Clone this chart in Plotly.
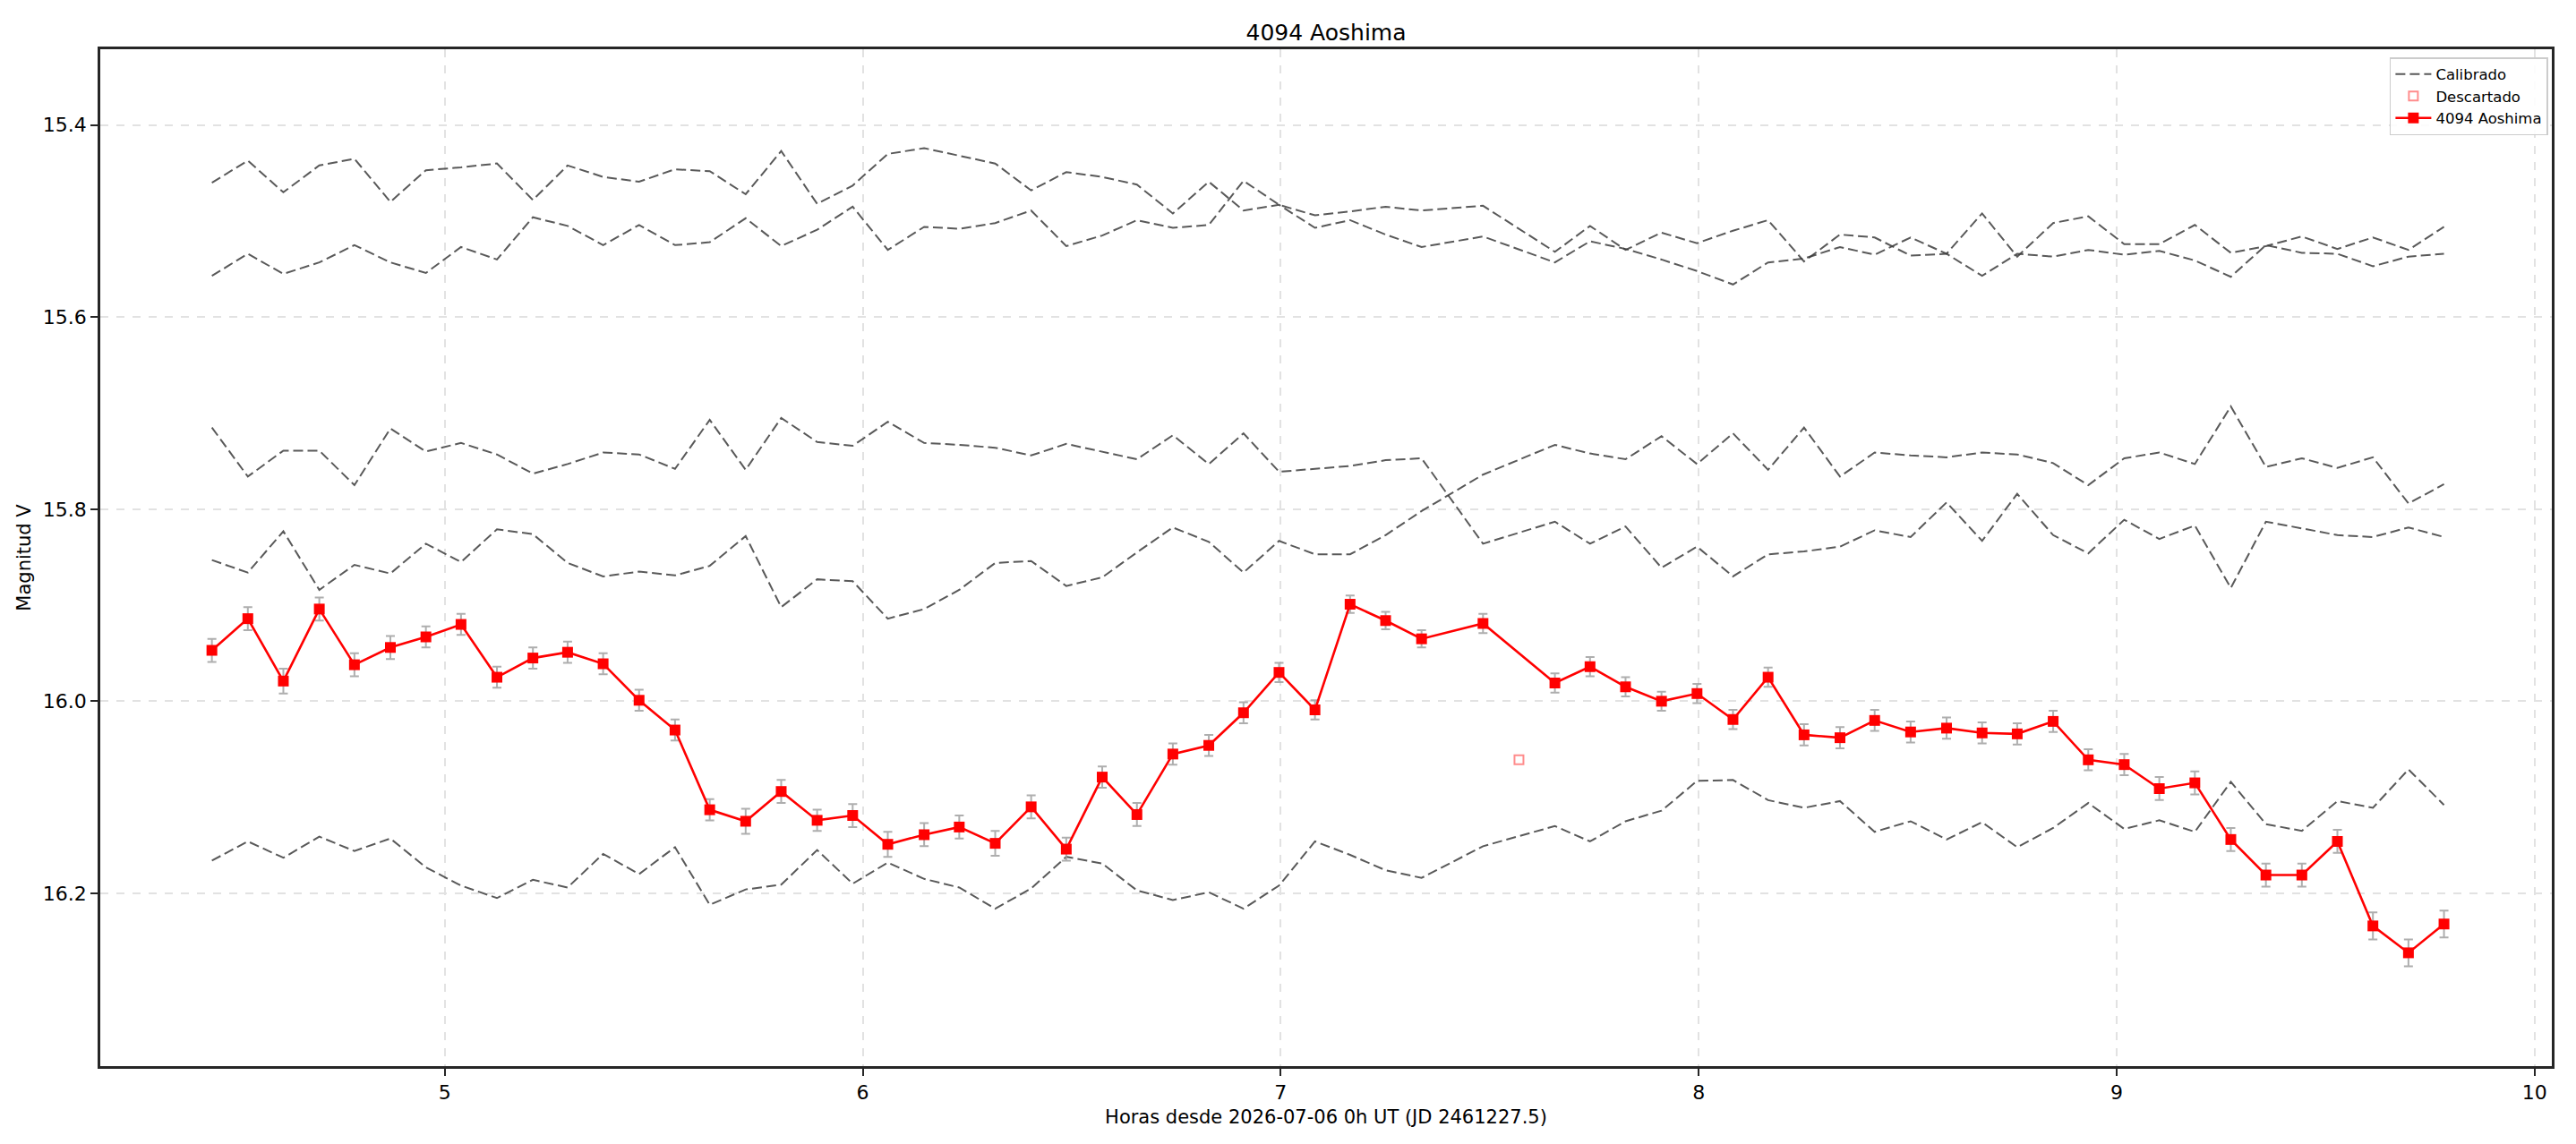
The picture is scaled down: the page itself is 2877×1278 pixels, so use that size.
import plotly.graph_objects as go

# ---- data ----
hours = [4.443, 4.529, 4.614, 4.700, 4.784, 4.870, 4.955, 5.039, 5.125, 5.211, 5.294,
         5.379, 5.465, 5.551, 5.634, 5.720, 5.805, 5.891, 5.976, 6.060, 6.147, 6.231,
         6.317, 6.403, 6.487, 6.573, 6.656, 6.742, 6.828, 6.911, 6.996, 7.082, 7.166,
         7.251, 7.337, 7.484, 7.656, 7.740, 7.825, 7.911, 7.996, 8.082, 8.166,
         8.252, 8.338, 8.421, 8.507, 8.593, 8.678, 8.762, 8.848, 8.932, 9.018, 9.102,
         9.187, 9.273, 9.357, 9.443, 9.528, 9.613, 9.698, 9.783]

aoshima_mag = [15.947, 15.914, 15.979, 15.904, 15.962, 15.944, 15.933, 15.920, 15.975, 15.955, 15.949,
               15.961, 15.999, 16.030, 16.113, 16.125, 16.094, 16.124, 16.119, 16.149, 16.139, 16.131,
               16.148, 16.110, 16.154, 16.079, 16.118, 16.055, 16.046, 16.012, 15.970, 16.009, 15.899,
               15.916, 15.935, 15.919, 15.981, 15.964, 15.985, 16.000, 15.992, 16.019, 15.975,
               16.035, 16.038, 16.020, 16.032, 16.028, 16.033, 16.034, 16.021, 16.061, 16.066, 16.091,
               16.085, 16.144, 16.181, 16.181, 16.146, 16.234, 16.262, 16.232]

aoshima_err = [0.012, 0.012, 0.013, 0.012, 0.012, 0.012, 0.011, 0.011, 0.011, 0.011, 0.011,
               0.011, 0.011, 0.011, 0.011, 0.013, 0.012, 0.011, 0.012, 0.013, 0.012, 0.012,
               0.013, 0.012, 0.012, 0.011, 0.012, 0.011, 0.011, 0.011, 0.010, 0.010, 0.009,
               0.009, 0.009, 0.010, 0.010, 0.010, 0.010, 0.010, 0.010, 0.010, 0.010,
               0.011, 0.011, 0.011, 0.011, 0.011, 0.011, 0.011, 0.011, 0.011, 0.011, 0.012,
               0.012, 0.012, 0.012, 0.012, 0.012, 0.014, 0.014, 0.014]

calib_a = [15.460, 15.437, 15.470, 15.442, 15.435, 15.480, 15.447, 15.444, 15.440, 15.478, 15.442,
           15.454, 15.459, 15.446, 15.448, 15.472, 15.427, 15.482, 15.463, 15.430, 15.424, 15.432,
           15.440, 15.468, 15.449, 15.454, 15.462, 15.492, 15.459, 15.489, 15.483, 15.507, 15.499,
           15.514, 15.527, 15.516, 15.543, 15.521, 15.529, 15.540, 15.552, 15.566, 15.543,
           15.539, 15.527, 15.535, 15.517, 15.534, 15.557, 15.534, 15.537, 15.530, 15.535, 15.531,
           15.541, 15.558, 15.525, 15.533, 15.534, 15.547, 15.537, 15.534]

calib_b = [15.557, 15.534, 15.555, 15.543, 15.525, 15.543, 15.554, 15.527, 15.540, 15.496, 15.505,
           15.525, 15.504, 15.525, 15.522, 15.497, 15.526, 15.509, 15.485, 15.530, 15.506, 15.508,
           15.502, 15.489, 15.526, 15.515, 15.499, 15.507, 15.504, 15.458, 15.483, 15.494, 15.490,
           15.485, 15.489, 15.484, 15.532, 15.505, 15.530, 15.512, 15.523, 15.510, 15.499,
           15.542, 15.514, 15.517, 15.536, 15.534, 15.492, 15.537, 15.502, 15.495, 15.524, 15.524,
           15.504, 15.533, 15.526, 15.516, 15.529, 15.517, 15.530, 15.506]

calib_c = [15.715, 15.766, 15.739, 15.739, 15.775, 15.716, 15.740, 15.731, 15.743, 15.763, 15.753,
           15.741, 15.743, 15.758, 15.707, 15.759, 15.705, 15.730, 15.734, 15.709, 15.731, 15.733,
           15.736, 15.744, 15.732, 15.740, 15.748, 15.723, 15.753, 15.721, 15.761, 15.758, 15.755,
           15.749, 15.747, 15.836, 15.813, 15.836, 15.818, 15.861, 15.839, 15.870, 15.847,
           15.844, 15.839, 15.822, 15.829, 15.793, 15.833, 15.784, 15.827, 15.846, 15.811, 15.831,
           15.817, 15.882, 15.813, 15.820, 15.827, 15.829, 15.819, 15.829]

calib_d = [15.853, 15.866, 15.823, 15.884, 15.858, 15.867, 15.836, 15.855, 15.821, 15.826, 15.856,
           15.870, 15.865, 15.869, 15.859, 15.828, 15.902, 15.873, 15.875, 15.914, 15.904, 15.884,
           15.856, 15.854, 15.880, 15.871, 15.845, 15.819, 15.834, 15.866, 15.833, 15.847, 15.847,
           15.827, 15.802, 15.764, 15.733, 15.742, 15.748, 15.724, 15.753, 15.721, 15.759,
           15.715, 15.766, 15.741, 15.744, 15.746, 15.741, 15.743, 15.752, 15.775, 15.747, 15.741,
           15.753, 15.693, 15.756, 15.747, 15.757, 15.746, 15.794, 15.774]

calib_e = [16.166, 16.146, 16.163, 16.141, 16.156, 16.143, 16.173, 16.192, 16.205, 16.186, 16.194,
           16.159, 16.180, 16.152, 16.212, 16.196, 16.191, 16.155, 16.190, 16.168, 16.185, 16.194,
           16.216, 16.195, 16.162, 16.169, 16.197, 16.207, 16.199, 16.216, 16.192, 16.146, 16.160,
           16.176, 16.184, 16.151, 16.130, 16.146, 16.125, 16.114, 16.083, 16.082, 16.103,
           16.111, 16.104, 16.136, 16.125, 16.144, 16.126, 16.152, 16.132, 16.106, 16.133, 16.124,
           16.136, 16.084, 16.128, 16.135, 16.104, 16.111, 16.071, 16.108]

discard_hours = [7.570]
discard_mag = [16.061]

y_ticks = [15.4, 15.6, 15.8, 16.0, 16.2]
x_ticks = [5, 6, 7, 8, 9, 10]

FONT = "DejaVu Sans"

fig = go.Figure()

for k, series in enumerate([calib_a, calib_b, calib_c, calib_d, calib_e]):
    fig.add_trace(go.Scatter(
        x=hours, y=series, mode="lines", name="Calibrado",
        legendgroup="cal", showlegend=(k == 0),
        line=dict(color="rgba(60,60,60,0.85)", width=2, dash="11px,5px"),
        hoverinfo="skip"))

fig.add_trace(go.Scatter(
    x=discard_hours, y=discard_mag, mode="markers", name="Descartado",
    marker=dict(symbol="square-open", size=10, color="rgba(255,0,0,0.45)",
                line=dict(width=2, color="rgba(255,0,0,0.45)"))))

fig.add_trace(go.Scatter(
    x=hours, y=aoshima_mag, mode="lines+markers", name="4094 Aoshima",
    line=dict(color="#ff0000", width=2.6),
    marker=dict(symbol="square", size=12, color="#ff0000"),
    error_y=dict(type="data", array=aoshima_err, visible=True,
                 color="rgba(160,160,160,0.85)", thickness=2, width=5)))

axis_common = dict(
    showline=True, linecolor="#262626", linewidth=2.5, mirror=True,
    ticks="outside", ticklen=8, tickwidth=1.5, tickcolor="#262626",
    showgrid=True, gridcolor="#e2e2e2", gridwidth=1.5, griddash="dash",
    zeroline=False, tickfont=dict(family=FONT, size=22, color="#000"),
)

fig.update_layout(
    width=2877, height=1278,
    margin=dict(l=112, r=27, t=55, b=87),
    paper_bgcolor="white", plot_bgcolor="white",
    font=dict(family=FONT, color="#000"),
    title=dict(text="4094 Aoshima", x=0.5, xref="paper", xanchor="center",
               y=0.972, yanchor="middle",
               font=dict(family=FONT, size=25, color="#000")),
    xaxis=dict(range=[4.176, 10.041], tickvals=x_ticks,
               title=dict(text="Horas desde 2026-07-06 0h UT (JD 2461227.5)",
                          font=dict(family=FONT, size=21), standoff=9),
               **axis_common),
    yaxis=dict(range=[16.38, 15.321], tickvals=y_ticks, tickformat=".1f",
               title=dict(text="Magnitud V", font=dict(family=FONT, size=21), standoff=8),
               **axis_common),
    legend=dict(x=0.9985, y=0.992, xanchor="right", yanchor="top",
                bgcolor="rgba(255,255,255,0.9)", bordercolor="#cccccc", borderwidth=1.5,
                font=dict(family=FONT, size=16.5, color="#000"),
                tracegroupgap=0, itemwidth=40),
    showlegend=True,
)

fig.write_html("out.html")
